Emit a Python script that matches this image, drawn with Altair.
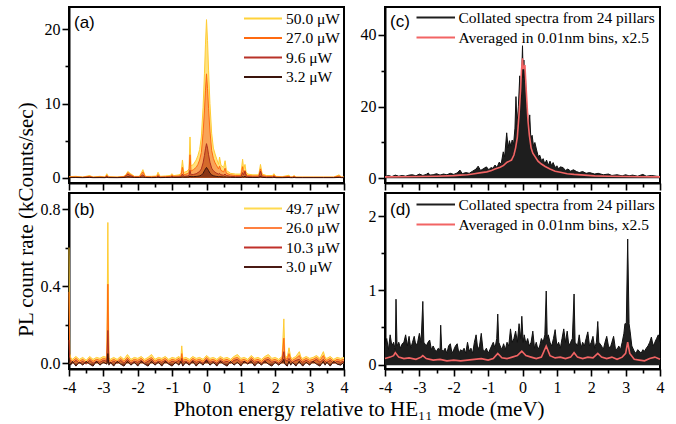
import altair as alt
import pandas as pd

SERIF = "Liberation Serif"
SANS = "Liberation Sans"
W, H = 275, 176

# ---------------- Panel (a): single pillar, power series ----------------
A_X = [-4.0, -3.8, -3.6, -3.4, -3.3, -3.1, -2.95, -2.9, -2.85, -2.6,
       -2.4, -2.33, -2.29, -2.22, -2.1, -1.95, -1.85, -1.78, -1.6, -1.45,
       -1.41, -1.35, -1.2, -1.05, -1.01, -0.95, -0.8, -0.74, -0.70, -0.66,
       -0.56, -0.51, -0.48, -0.45, -0.38, -0.3, -0.25, -0.2, -0.15, -0.1,
       -0.06, -0.03, 0.0, 0.03, 0.06, 0.1, 0.15, 0.2, 0.25, 0.3,
       0.35, 0.38, 0.42, 0.5, 0.54, 0.58, 0.7, 0.85, 1.0, 1.05,
       1.08, 1.12, 1.15, 1.2, 1.35, 1.52, 1.57, 1.62, 1.75, 1.92,
       1.96, 2.02, 2.2, 2.4, 2.45, 2.5, 2.55, 2.6, 2.8, 3.1,
       3.4, 3.7, 3.86, 3.92, 4.0]
A_Y50 = [0.15, 0.2, 0.1, 0.3, 0.1, 0.2, 0.1, 0.55, 0.15, 0.1,
         0.2, 0.5, 0.85, 0.6, 0.2, 0.2, 1.1, 0.2, 0.2, 0.25,
         0.75, 0.2, 0.25, 0.3, 0.55, 0.3, 0.4, 0.6, 2.4, 0.7,
         0.9, 1.2, 5.5, 1.6, 1.8, 2.4, 3.0, 3.8, 5.5, 9.5,
         14.0, 18.0, 21.3, 18.5, 14.5, 10.0, 6.0, 4.0, 3.2, 2.5,
         1.8, 2.8, 1.7, 1.4, 2.3, 1.0, 0.6, 0.5, 0.5, 2.5,
         1.2, 1.8, 0.8, 0.5, 0.4, 0.4, 1.8, 0.5, 0.3, 0.3,
         0.55, 0.2, 0.15, 0.35, 0.1, 0.15, 0.3, 0.1, 0.1, 0.1,
         0.1, 0.1, 0.4, 0.1, 0.1]
A_Y27 = [0.1, 0.12, 0.08, 0.2, 0.08, 0.12, 0.08, 0.35, 0.1, 0.08,
         0.15, 0.4, 0.7, 0.45, 0.15, 0.15, 0.8, 0.15, 0.12, 0.15,
         0.45, 0.12, 0.15, 0.2, 0.35, 0.2, 0.25, 0.35, 1.4, 0.4,
         0.55, 0.7, 3.1, 0.9, 1.1, 1.4, 1.8, 2.4, 3.4, 6.0,
         9.0, 11.8, 14.0, 12.0, 9.3, 6.3, 3.7, 2.6, 2.0, 1.6,
         1.2, 1.6, 1.0, 0.8, 1.3, 0.6, 0.4, 0.3, 0.3, 1.5,
         0.7, 1.0, 0.5, 0.3, 0.25, 0.25, 1.2, 0.3, 0.2, 0.2,
         0.35, 0.12, 0.1, 0.2, 0.08, 0.1, 0.2, 0.08, 0.08, 0.08,
         0.08, 0.08, 0.25, 0.08, 0.08]
A_Y96 = [0.05, 0.06, 0.04, 0.1, 0.04, 0.06, 0.04, 0.2, 0.05, 0.04,
         0.08, 0.3, 0.5, 0.3, 0.08, 0.08, 0.4, 0.08, 0.06, 0.08,
         0.25, 0.06, 0.08, 0.1, 0.2, 0.1, 0.12, 0.15, 0.5, 0.2,
         0.25, 0.3, 1.0, 0.4, 0.45, 0.55, 0.7, 0.85, 1.2, 2.0,
         3.0, 3.9, 4.6, 4.0, 3.1, 2.1, 1.3, 0.95, 0.75, 0.6,
         0.5, 0.6, 0.4, 0.35, 0.5, 0.3, 0.2, 0.15, 0.15, 0.7,
         0.4, 0.9, 0.3, 0.15, 0.12, 0.12, 0.9, 0.15, 0.1, 0.1,
         0.2, 0.06, 0.05, 0.1, 0.04, 0.05, 0.1, 0.04, 0.04, 0.04,
         0.04, 0.04, 0.1, 0.04, 0.04]
A_Y32 = [0.03, 0.04, 0.02, 0.05, 0.02, 0.03, 0.02, 0.08, 0.03, 0.02,
         0.04, 0.1, 0.15, 0.1, 0.04, 0.04, 0.1, 0.04, 0.03, 0.04,
         0.08, 0.03, 0.04, 0.05, 0.07, 0.05, 0.06, 0.07, 0.12, 0.08,
         0.1, 0.12, 0.22, 0.15, 0.16, 0.18, 0.21, 0.26, 0.36, 0.6,
         0.95, 1.2, 1.4, 1.2, 0.97, 0.62, 0.4, 0.28, 0.22, 0.18,
         0.15, 0.17, 0.13, 0.11, 0.13, 0.09, 0.07, 0.05, 0.05, 0.15,
         0.1, 0.2, 0.08, 0.05, 0.04, 0.04, 0.2, 0.05, 0.03, 0.03,
         0.06, 0.02, 0.02, 0.04, 0.02, 0.02, 0.04, 0.02, 0.02, 0.02,
         0.02, 0.02, 0.05, 0.02, 0.02]
A_LABELS = ["50.0 \u03bcW", "27.0 \u03bcW", "9.6 \u03bcW", "3.2 \u03bcW"]

# ---------------- Panel (b): second pillar, power series ----------------
B_X = [-4.0, -3.98, -3.95, -3.9, -3.8, -3.7, -3.6, -3.5, -3.4, -3.3,
       -3.2, -3.1, -3.0, -2.9, -2.87, -2.84, -2.8, -2.7, -2.6, -2.5,
       -2.4, -2.3, -2.2, -2.1, -2.0, -1.9, -1.8, -1.7, -1.6, -1.5,
       -1.4, -1.3, -1.2, -1.1, -1.0, -0.9, -0.8, -0.75, -0.72, -0.69,
       -0.6, -0.5, -0.4, -0.3, -0.2, -0.1, 0.0, 0.1, 0.2, 0.3,
       0.4, 0.5, 0.6, 0.7, 0.8, 0.9, 1.0, 1.1, 1.2, 1.3,
       1.4, 1.5, 1.6, 1.7, 1.8, 1.9, 2.0, 2.1, 2.2, 2.25,
       2.28, 2.35, 2.4, 2.45, 2.5, 2.6, 2.7, 2.75, 2.8, 2.9,
       3.0, 3.1, 3.2, 3.3, 3.4, 3.45, 3.5, 3.6, 3.7, 3.8,
       3.9, 4.0]
B_Y497 = [0.6, 0.05, 0.03, 0.02, 0.035, 0.02, 0.03, 0.015, 0.035, 0.02,
          0.03, 0.025, 0.035, 0.03, 0.73, 0.03, 0.02, 0.03, 0.02, 0.035,
          0.02, 0.045, 0.02, 0.03, 0.025, 0.035, 0.02, 0.03, 0.045, 0.02,
          0.03, 0.025, 0.035, 0.02, 0.03, 0.025, 0.035, 0.02, 0.09, 0.025,
          0.03, 0.02, 0.035, 0.025, 0.03, 0.02, 0.04, 0.025, 0.03, 0.02,
          0.035, 0.025, 0.03, 0.02, 0.035, 0.045, 0.025, 0.03, 0.02, 0.04,
          0.025, 0.03, 0.02, 0.035, 0.045, 0.025, 0.03, 0.02, 0.035, 0.23,
          0.04, 0.03, 0.08, 0.03, 0.025, 0.035, 0.06, 0.03, 0.025, 0.035,
          0.025, 0.03, 0.04, 0.025, 0.06, 0.03, 0.025, 0.035, 0.02, 0.03,
          0.025, 0.03]
B_Y260 = [0.37, 0.03, 0.02, 0.01, 0.025, 0.01, 0.02, 0.005, 0.025, 0.01,
          0.02, 0.015, 0.025, 0.02, 0.41, 0.02, 0.01, 0.02, 0.01, 0.025,
          0.01, 0.03, 0.01, 0.02, 0.015, 0.025, 0.01, 0.02, 0.03, 0.01,
          0.02, 0.015, 0.025, 0.01, 0.02, 0.015, 0.025, 0.01, 0.05, 0.015,
          0.02, 0.01, 0.025, 0.015, 0.02, 0.01, 0.03, 0.015, 0.02, 0.01,
          0.025, 0.015, 0.02, 0.01, 0.025, 0.03, 0.015, 0.02, 0.01, 0.03,
          0.015, 0.02, 0.01, 0.025, 0.03, 0.015, 0.02, 0.01, 0.025, 0.13,
          0.03, 0.02, 0.05, 0.02, 0.015, 0.025, 0.04, 0.02, 0.015, 0.025,
          0.015, 0.02, 0.03, 0.015, 0.04, 0.02, 0.015, 0.025, 0.01, 0.02,
          0.015, 0.02]
B_Y103 = [0.12, 0.02, 0.01, 0.0, 0.015, 0.0, 0.01, -0.005, 0.015, 0.0,
          0.01, 0.005, 0.015, 0.01, 0.17, 0.01, 0.0, 0.01, 0.0, 0.015,
          0.0, 0.02, 0.0, 0.01, 0.005, 0.015, 0.0, 0.01, 0.02, 0.0,
          0.01, 0.005, 0.015, 0.0, 0.01, 0.005, 0.015, 0.0, 0.025, 0.005,
          0.01, 0.0, 0.015, 0.005, 0.01, 0.0, 0.02, 0.005, 0.01, 0.0,
          0.015, 0.005, 0.01, 0.0, 0.015, 0.02, 0.005, 0.01, 0.0, 0.02,
          0.005, 0.01, 0.0, 0.015, 0.02, 0.005, 0.01, 0.0, 0.015, 0.06,
          0.02, 0.01, 0.025, 0.01, 0.005, 0.015, 0.02, 0.01, 0.005, 0.015,
          0.005, 0.01, 0.02, 0.005, 0.02, 0.01, 0.005, 0.015, 0.0, 0.01,
          0.005, 0.01]
B_Y30 = [0.03, 0.005, -0.01, 0.01, -0.015, 0.005, -0.01, 0.01, -0.005, -0.015,
         0.01, -0.01, 0.005, -0.005, 0.05, -0.01, 0.005, -0.015, 0.01, -0.005,
         -0.015, 0.01, -0.01, 0.005, -0.015, 0.01, -0.005, -0.015, 0.01, -0.01,
         0.005, -0.015, 0.01, -0.005, -0.015, 0.005, -0.01, 0.01, 0.0, -0.015,
         0.005, -0.01, 0.01, -0.015, 0.005, -0.01, 0.015, -0.01, 0.005, -0.015,
         0.01, -0.005, -0.015, 0.01, -0.01, 0.005, -0.015, 0.01, -0.005, 0.01,
         -0.015, 0.005, -0.01, 0.01, -0.005, -0.015, 0.005, -0.01, 0.005, 0.02,
         -0.005, -0.015, 0.01, -0.01, 0.005, -0.015, 0.01, -0.005, -0.015, 0.005,
         -0.01, 0.01, -0.005, -0.015, 0.01, -0.01, 0.005, -0.015, 0.01, -0.005,
         -0.01, 0.005]
B_LABELS = ["49.7 \u03bcW", "26.0 \u03bcW", "10.3 \u03bcW", "3.0 \u03bcW"]

# ---------------- Panel (c): collated spectra (on resonance) ----------------
C_BLACK = [(-4.0, 0.5), (-3.9, 0.8), (-3.8, 0.5), (-3.7, 0.9), (-3.6, 0.6), (-3.5, 0.8),
           (-3.4, 0.6), (-3.3, 0.9), (-3.2, 1.0), (-3.1, 0.7), (-3.0, 1.2), (-2.9, 0.8),
           (-2.8, 1.1), (-2.74, 1.5), (-2.7, 0.9), (-2.6, 1.0), (-2.5, 1.3), (-2.4, 0.9),
           (-2.3, 1.2), (-2.2, 1.0), (-2.1, 1.4), (-2.0, 1.1), (-1.9, 1.5), (-1.82, 2.3),
           (-1.75, 1.3), (-1.65, 1.6), (-1.55, 1.4), (-1.45, 2.0), (-1.35, 2.6), (-1.29, 3.4),
           (-1.22, 2.2), (-1.15, 2.6), (-1.05, 3.2), (-0.98, 2.4), (-0.92, 3.0), (-0.86, 2.8),
           (-0.8, 3.7), (-0.74, 3.0), (-0.68, 4.5), (-0.62, 4.0), (-0.56, 7.4), (-0.52, 6.0),
           (-0.46, 12.7), (-0.42, 8.5), (-0.38, 10.5), (-0.34, 9.0), (-0.30, 10.7), (-0.26, 9.5),
           (-0.22, 14.0), (-0.19, 22.8), (-0.16, 15.0), (-0.12, 20.0), (-0.08, 28.6), (-0.05, 22.0),
           (-0.02, 30.0), (0.0, 37.0), (0.02, 28.0), (0.04, 33.0), (0.06, 27.0), (0.08, 30.0),
           (0.10, 24.0), (0.12, 20.0), (0.15, 18.0), (0.18, 14.0), (0.21, 17.7), (0.24, 11.5),
           (0.28, 12.0), (0.32, 9.0), (0.36, 10.0), (0.41, 7.9), (0.46, 6.0), (0.5, 6.5),
           (0.55, 5.0), (0.6, 5.5), (0.65, 4.0), (0.7, 5.1), (0.75, 3.6), (0.8, 4.8),
           (0.85, 3.5), (0.89, 4.4), (0.95, 3.0), (1.0, 3.5), (1.05, 2.6), (1.1, 3.2),
           (1.18, 3.0), (1.25, 2.2), (1.32, 2.6), (1.4, 2.0), (1.48, 2.4), (1.57, 1.9),
           (1.65, 1.6), (1.75, 1.9), (1.85, 1.4), (1.95, 1.6), (2.1, 1.2), (2.2, 1.4),
           (2.35, 1.0), (2.5, 1.2), (2.6, 0.8), (2.75, 1.0), (2.9, 0.7), (3.0, 1.0),
           (3.1, 0.7), (3.2, 0.9), (3.35, 0.6), (3.5, 1.1), (3.6, 0.6), (3.75, 0.8),
           (3.9, 0.6), (4.0, 0.5)]
C_RED = [(-4.0, 0.4), (-3.5, 0.45), (-3.0, 0.5), (-2.5, 0.6), (-2.0, 0.75), (-1.82, 0.9),
         (-1.6, 1.0), (-1.4, 1.3), (-1.2, 1.6), (-1.04, 1.8), (-0.9, 2.2), (-0.8, 2.6),
         (-0.65, 3.1), (-0.55, 3.6), (-0.45, 4.5), (-0.38, 4.8), (-0.32, 5.1), (-0.25, 6.5),
         (-0.2, 8.5), (-0.15, 11.5), (-0.1, 18.0), (-0.06, 24.0), (-0.03, 30.0), (0.0, 33.5),
         (0.02, 30.5), (0.04, 31.0), (0.07, 31.6), (0.1, 26.0), (0.13, 21.0), (0.16, 16.0),
         (0.2, 12.0), (0.25, 8.5), (0.3, 7.0), (0.37, 6.0), (0.45, 4.8), (0.55, 4.0),
         (0.66, 3.3), (0.8, 2.6), (0.95, 2.0), (1.1, 1.7), (1.3, 1.3), (1.5, 1.1),
         (1.8, 0.9), (2.1, 0.7), (2.5, 0.6), (3.0, 0.5), (3.5, 0.45), (4.0, 0.4)]

# ---------------- Panel (d): collated spectra (off resonance) ----------------
D_BLACK = [(-4.0, 0.25), (-3.95, 0.35), (-3.9, 0.2), (-3.85, 0.4), (-3.8, 0.25), (-3.75, 0.3),
           (-3.7, 0.2), (-3.68, 0.88), (-3.65, 0.25), (-3.6, 0.3), (-3.55, 0.22), (-3.5, 0.28),
           (-3.45, 0.3), (-3.4, 0.4), (-3.35, 0.25), (-3.3, 0.38), (-3.25, 0.22), (-3.2, 0.3),
           (-3.15, 0.38), (-3.1, 0.25), (-3.05, 0.3), (-3.0, 0.42), (-2.95, 0.3), (-2.9, 0.85),
           (-2.87, 0.3), (-2.8, 0.25), (-2.75, 0.3), (-2.7, 0.33), (-2.65, 0.2), (-2.6, 0.25),
           (-2.55, 0.2), (-2.5, 0.18), (-2.45, 0.22), (-2.4, 0.2), (-2.38, 0.53), (-2.35, 0.2),
           (-2.3, 0.18), (-2.25, 0.22), (-2.2, 0.15), (-2.15, 0.25), (-2.1, 0.28), (-2.05, 0.15),
           (-2.0, 0.2), (-1.95, 0.25), (-1.9, 0.28), (-1.85, 0.15), (-1.8, 0.2), (-1.75, 0.18),
           (-1.7, 0.22), (-1.65, 0.15), (-1.6, 0.3), (-1.55, 0.18), (-1.5, 0.22), (-1.45, 0.15),
           (-1.4, 0.3), (-1.35, 0.4), (-1.3, 0.2), (-1.25, 0.25), (-1.2, 0.42), (-1.15, 0.2),
           (-1.1, 0.18), (-1.05, 0.22), (-1.0, 0.15), (-0.95, 0.2), (-0.9, 0.25), (-0.85, 0.3),
           (-0.8, 0.22), (-0.75, 0.35), (-0.72, 0.68), (-0.69, 0.3), (-0.65, 0.25), (-0.6, 0.2),
           (-0.55, 0.28), (-0.5, 0.2), (-0.45, 0.3), (-0.4, 0.25), (-0.35, 0.48), (-0.3, 0.3),
           (-0.25, 0.35), (-0.2, 0.45), (-0.15, 0.3), (-0.1, 0.55), (-0.05, 0.35), (-0.02, 0.65),
           (0.02, 0.3), (0.05, 0.4), (0.1, 0.28), (0.15, 0.35), (0.2, 0.25), (0.25, 0.3),
           (0.3, 0.45), (0.35, 0.22), (0.4, 0.3), (0.45, 0.2), (0.5, 0.25), (0.55, 0.35),
           (0.6, 0.3), (0.65, 0.4), (0.69, 0.99), (0.72, 0.35), (0.75, 0.4), (0.8, 0.3),
           (0.85, 0.25), (0.9, 0.35), (0.95, 0.47), (1.0, 0.25), (1.05, 0.3), (1.1, 0.22),
           (1.15, 0.35), (1.2, 0.48), (1.25, 0.3), (1.3, 0.45), (1.35, 0.25), (1.4, 0.3),
           (1.45, 0.35), (1.5, 0.95), (1.53, 0.3), (1.6, 0.25), (1.65, 0.4), (1.7, 0.22),
           (1.75, 0.3), (1.8, 0.25), (1.85, 0.35), (1.9, 0.44), (1.95, 0.25), (2.0, 0.3),
           (2.05, 0.38), (2.1, 0.22), (2.15, 0.3), (2.19, 0.58), (2.22, 0.3), (2.3, 0.25),
           (2.35, 0.2), (2.4, 0.3), (2.45, 0.38), (2.5, 0.25), (2.55, 0.22), (2.6, 0.3),
           (2.65, 0.38), (2.7, 0.22), (2.75, 0.2), (2.8, 0.25), (2.85, 0.2), (2.9, 0.3),
           (2.95, 0.42), (2.98, 0.55), (3.02, 0.55), (3.06, 1.69), (3.1, 0.55), (3.13, 0.45),
           (3.18, 0.25), (3.25, 0.18), (3.3, 0.15), (3.35, 0.2), (3.4, 0.18), (3.45, 0.15),
           (3.5, 0.2), (3.55, 0.18), (3.6, 0.22), (3.65, 0.25), (3.7, 0.3), (3.75, 0.37),
           (3.8, 0.25), (3.85, 0.3), (3.9, 0.35), (3.95, 0.4), (4.0, 0.3)]
D_RED = [(-4.0, 0.08), (-3.85, 0.1), (-3.75, 0.12), (-3.7, 0.16), (-3.6, 0.1), (-3.45, 0.08),
         (-3.3, 0.09), (-3.1, 0.07), (-2.95, 0.1), (-2.9, 0.12), (-2.8, 0.08), (-2.6, 0.06),
         (-2.4, 0.07), (-2.2, 0.05), (-2.0, 0.06), (-1.8, 0.05), (-1.6, 0.06), (-1.4, 0.07),
         (-1.2, 0.08), (-1.0, 0.06), (-0.85, 0.08), (-0.72, 0.15), (-0.6, 0.09), (-0.45, 0.08),
         (-0.3, 0.1), (-0.15, 0.12), (-0.02, 0.18), (0.1, 0.12), (0.25, 0.1), (0.4, 0.08),
         (0.55, 0.1), (0.69, 0.25), (0.8, 0.12), (0.95, 0.09), (1.1, 0.1), (1.25, 0.08),
         (1.4, 0.1), (1.5, 0.16), (1.6, 0.1), (1.75, 0.08), (1.9, 0.1), (2.05, 0.09),
         (2.19, 0.15), (2.3, 0.1), (2.45, 0.08), (2.6, 0.1), (2.75, 0.07), (2.9, 0.1),
         (3.0, 0.15), (3.06, 0.3), (3.12, 0.15), (3.25, 0.07), (3.4, 0.06), (3.55, 0.05),
         (3.7, 0.08), (3.85, 0.1), (4.0, 0.07)]
CD_LABELS = ["Collated spectra from 24 pillars", "Averaged in 0.01nm bins, x2.5"]

X_TICKS = [-4, -3.5, -3, -2.5, -2, -1.5, -1, -0.5, 0, 0.5, 1, 1.5, 2, 2.5, 3, 3.5, 4]
A_TICKS = [0, 5, 10, 15, 20]
B_TICKS = [0, 0.2, 0.4, 0.6, 0.8]
C_TICKS = [0, 10, 20, 30, 40]
D_TICKS = [0, 0.5, 1, 1.5, 2]

POWER_FILLS = ["#FFE27F", "#F9A458", "#D46A2C", "#8A3414"]
POWER_LINES = ["#FFCC33", "#FF6A10", "#B0301E", "#3A140C"]
LEG_A = ["#FFD23A", "#FF6A10", "#B83228", "#3A140C"]
LEG_B = ["#FFDA50", "#FF8040", "#C0302A", "#4A1A14"]
BLACK = "#1E1E1E"
RED = "#F26464"

XSCALE = alt.Scale(domain=[-4, 4], nice=False, zero=False)

AX_COMMON = dict(domain=True, domainColor="black", domainWidth=2, ticks=True,
                 tickColor="black", tickWidth=1.6, labelFont=SERIF, labelFontSize=16,
                 labelColor="black", grid=False, labelOverlap=False, labelFlush=False,
                 labelBound=False)


def x_axis(labels, title=None):
    kw = dict(AX_COMMON)
    kw.update(values=X_TICKS,
              tickSize={"condition": {"test": "datum.value % 1 != 0", "value": 4}, "value": 7},
              labelPadding=3)
    if labels:
        kw.update(labels=True, labelExpr="datum.value % 1 == 0 ? '' + datum.value : ''")
    else:
        kw.update(labels=False)
    if title:
        kw.update(title=title, titleFont=SERIF, titleFontSize=21, titleFontWeight="normal",
                  titleColor="black", titleX=289.5, titleY=46, titleAlign="center",
                  titleBaseline="alphabetic", titleAngle=0)
    else:
        kw.update(title=None)
    return alt.Axis(**kw)


def y_axis(values, minor_test, label_expr, title=None):
    kw = dict(AX_COMMON)
    kw.update(values=values,
              tickSize={"condition": {"test": minor_test, "value": 4}, "value": 7},
              labelPadding=2, labelExpr=label_expr)
    if title:
        kw.update(title=title, titleFont=SERIF, titleFontSize=21, titleFontWeight="normal",
                  titleColor="black", titleX=-37, titleY=212, titleAlign="center",
                  titleBaseline="alphabetic", titleAngle=270)
    else:
        kw.update(title=None)
    return alt.Axis(**kw)


def legend_layers(labels, colors, x0, x1, xt, y0, dy):
    out = []
    for i, (lab, col) in enumerate(zip(labels, colors)):
        d = pd.DataFrame({"t": [lab]})
        yy = y0 + dy * i
        out.append(alt.Chart(d).mark_rule(color=col, strokeWidth=2).encode(
            x=alt.value(x0), x2=alt.value(x1), y=alt.value(yy)))
        out.append(alt.Chart(d).mark_text(align="left", baseline="middle", font=SERIF,
                                          fontSize=15.5, color="black").encode(
            x=alt.value(xt), y=alt.value(yy), text="t:N"))
    return out


def panel_label(txt, y):
    d = pd.DataFrame({"t": [txt]})
    return alt.Chart(d).mark_text(align="left", baseline="middle", font=SANS, fontSize=17,
                                  color="black").encode(x=alt.value(5), y=alt.value(y), text="t:N")


def power_panel(xs, ys_list, ydomain, yaxis, xaxis, labels, legcolors, leg_y0, letter, letter_y):
    yscale = alt.Scale(domain=ydomain, nice=False, zero=False)
    layers = []
    for ys, fill, line in zip(ys_list, POWER_FILLS, POWER_LINES):
        d = pd.DataFrame({"x": xs, "y": ys})
        layers.append(alt.Chart(d).mark_area(color=fill, opacity=1,
                                             line={"color": line, "strokeWidth": 1}).encode(
            x=alt.X("x:Q", scale=XSCALE, axis=xaxis),
            y=alt.Y("y:Q", scale=yscale, axis=yaxis),
            y2=alt.value(H)))
    layers += legend_layers(labels, legcolors, 175, 213, 217, leg_y0, 19.5)
    layers.append(panel_label(letter, letter_y))
    return alt.layer(*layers).properties(width=W, height=H)


def collated_panel(black, red, ydomain, base, yaxis, xaxis, leg_y0, letter, letter_y):
    yscale = alt.Scale(domain=ydomain, nice=False, zero=False)
    db = pd.DataFrame({"x": [p[0] for p in black], "y": [p[1] for p in black],
                       "b": [base] * len(black)})
    dr = pd.DataFrame({"x": [p[0] for p in red], "y": [p[1] for p in red]})
    layers = [
        alt.Chart(db).mark_area(color=BLACK, opacity=1,
                                line={"color": "#111111", "strokeWidth": 1}).encode(
            x=alt.X("x:Q", scale=XSCALE, axis=xaxis),
            y=alt.Y("y:Q", scale=yscale, axis=yaxis),
            y2="b:Q"),
        alt.Chart(dr).mark_line(color=RED, strokeWidth=1.6).encode(
            x=alt.X("x:Q", scale=XSCALE, axis=xaxis),
            y=alt.Y("y:Q", scale=yscale, axis=yaxis)),
    ]
    layers += legend_layers(CD_LABELS, [BLACK, RED], 31.5, 70, 73.5, leg_y0, 20)
    layers.append(panel_label(letter, letter_y))
    return alt.layer(*layers).properties(width=W, height=H)


XTITLE = "Photon energy relative to HE\u2081\u2081 mode (meV)"
YTITLE = "PL count rate (kCounts/sec)"

pa = power_panel(A_X, [A_Y50, A_Y27, A_Y96, A_Y32], [-0.7, 23.0],
                 y_axis(A_TICKS, "datum.value % 10 != 0",
                        "datum.value % 10 == 0 ? '' + datum.value : ''", YTITLE),
                 x_axis(False), A_LABELS, LEG_A, 11.5, "(a)", 16)
pb = power_panel(B_X, [B_Y497, B_Y260, B_Y103, B_Y30], [-0.03, 0.883],
                 y_axis(B_TICKS, "round(datum.value * 10) % 4 != 0",
                        "round(datum.value * 10) % 4 == 0 ? format(datum.value, '.1f') : ''"),
                 x_axis(True, XTITLE), B_LABELS, LEG_B, 15.5, "(b)", 16.5)
pc = collated_panel(C_BLACK, C_RED, [-1.3, 47.8], 0,
                    y_axis(C_TICKS, "datum.value % 20 != 0",
                           "datum.value % 20 == 0 ? '' + datum.value : ''"),
                    x_axis(False), 10.5, "(c)", 15)
pd_ = collated_panel(D_BLACK, D_RED, [-0.06, 2.31], -0.01,
                     y_axis(D_TICKS, "datum.value % 1 != 0",
                            "datum.value % 1 == 0 ? '' + datum.value : ''"),
                     x_axis(True), 11.5, "(d)", 17)

chart = alt.concat(pa, pc, pb, pd_, columns=2,
                   spacing=alt.RowColnumber(row=10, column=41), bounds="flush").properties(
    padding={"left": 13, "top": 6, "right": 5, "bottom": 5},
    background="white",
).configure_view(stroke="black", strokeWidth=2)

chart.save("out.html", embed_options={"renderer": "svg", "actions": False})
